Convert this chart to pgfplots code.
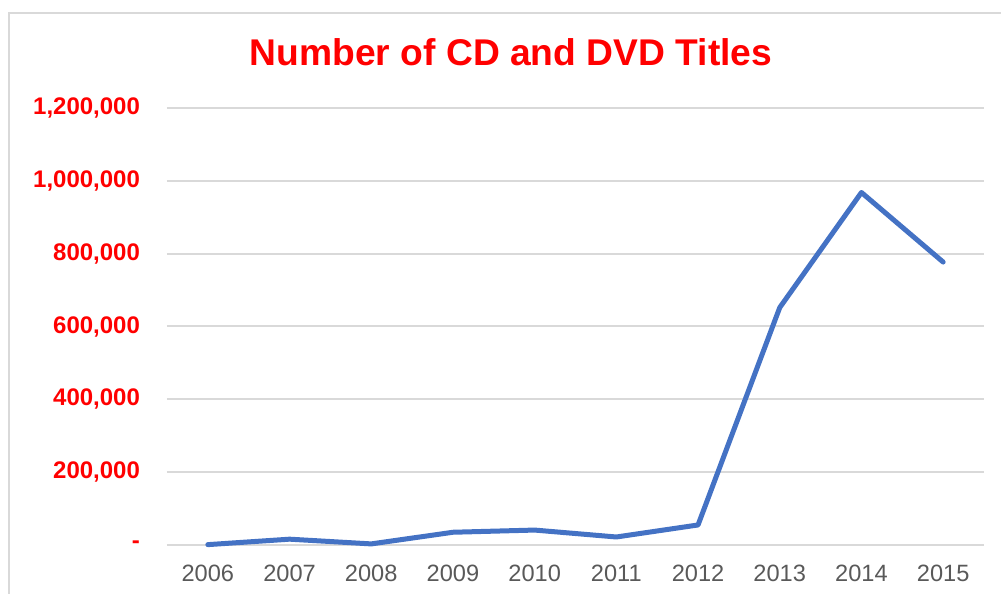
\documentclass[border=0pt]{standalone}
\usepackage{pgfplots}
\pgfplotsset{compat=1.18}
\usepackage{fontspec}
\setmainfont{Liberation Sans}
\definecolor{linecol}{HTML}{4472C4}
\definecolor{gridcol}{HTML}{D9D9D9}
\definecolor{xlab}{HTML}{595959}
\definecolor{framecol}{HTML}{D9D9D9}
\begin{document}
\begin{tikzpicture}
% page: 1 px of the reference = 0.5pt
\path[use as bounding box] (0,0) rectangle (500.5pt,297pt);
\draw[framecol, line width=1pt] (4.5pt,-2pt) -- (4.5pt,290.5pt) -- (503pt,290.5pt);
\node[text=red, font=\fontsize{18.6}{22}\selectfont\bfseries] at (255.5pt,271pt) {Number of CD and DVD Titles};
\begin{axis}[
    at={(83.5pt,24.5pt)}, anchor=south west,
    scale only axis,
    width=408.5pt, height=218.5pt,
    xmin=-0.5, xmax=9.5,
    ymin=0, ymax=1200000,
    scaled y ticks=false,
    xtick={0,...,9},
    xticklabels={2006,2007,2008,2009,2010,2011,2012,2013,2014,2015},
    ytick={0,200000,400000,600000,800000,1000000,1200000},
    yticklabels={{-\hspace{7pt}},{200,000},{400,000},{600,000},{800,000},{1,000,000},{1,200,000}},
    axis line style={draw=none},
    major tick length=0pt,
    ymajorgrids=true,
    grid style={gridcol, line width=1pt},
    yticklabel style={text=red, font=\fontsize{12}{14}\selectfont\bfseries, xshift=-10pt},
    xticklabel style={text=xlab, font=\fontsize{11.8}{14}\selectfont, yshift=-6.5pt},
    clip=false,
]
\addplot[linecol, line width=2.5pt, line join=round, line cap=round] coordinates {
    (0,1000) (1,16000) (2,3000) (3,35000) (4,41000)
    (5,22000) (6,55000) (7,652000) (8,968000) (9,777000)
};
\end{axis}
\end{tikzpicture}
\end{document}
